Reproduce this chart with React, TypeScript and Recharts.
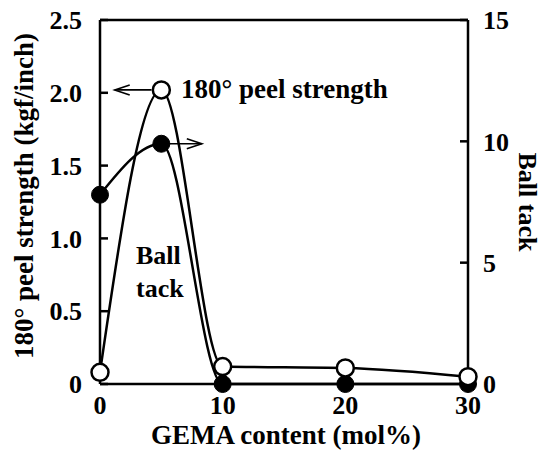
import { LineChart, Line, XAxis, YAxis, ReferenceLine } from "recharts";

// GEMA content (mol%) vs 180° peel strength (left) and ball tack (right)
const gemaContent = [0, 5, 10, 20, 30];
const peelStrength = [0.08, 2.02, 0.12, 0.11, 0.05];
const ballTack = [7.8, 9.9, 0, 0, 0];

const xTicks = [0, 10, 20, 30];
const peelTicks = [0, 0.5, 1.0, 1.5, 2.0, 2.5];
const tackTicks = [0, 5, 10, 15];

const data = gemaContent.map((x, i) => ({ x, peel: peelStrength[i], tack: ballTack[i] }));

const FONT = "'Liberation Serif', 'Times New Roman', serif";
const tickStyle = { fill: "#000", fontSize: 26, fontWeight: 700, fontFamily: FONT };

// arrow drawn on a ReferenceLine segment, head at the x1 or x2 end
function arrowShape(headAt: "start" | "end") {
  return (props: any) => {
    const { x1, y1, x2, y2 } = props;
    const hx = headAt === "start" ? x1 : x2;
    const hy = headAt === "start" ? y1 : y2;
    const d = headAt === "start" ? 1 : -1;
    return (
      <g>
        <line x1={x1} y1={y1} x2={x2} y2={y2} stroke="#000" strokeWidth={1.6} />
        <path
          d={`M${hx + d * 15},${hy - 5} L${hx},${hy} L${hx + d * 15},${hy + 5}`}
          fill="none"
          stroke="#000"
          strokeWidth={1.6}
        />
      </g>
    );
  };
}

const openDot = { r: 8.5, fill: "#fff", stroke: "#000", strokeWidth: 2.5 };
const filledDot = { r: 8.5, fill: "#000", stroke: "#000", strokeWidth: 1 };

export default function App() {
  return (
    <div style={{ position: "absolute", left: 0, top: 0, width: 549, height: 458, background: "#fff" }}>
      <LineChart width={549} height={458} data={data} margin={{ top: 20, right: 0, bottom: 0, left: 0 }}>
        <XAxis
          dataKey="x"
          type="number"
          domain={[0, 30]}
          ticks={xTicks}
          height={74}
          stroke="#000"
          strokeWidth={2.5}
          tickLine={false}
          tickSize={0}
          tickMargin={12}
          tick={tickStyle}
        />
        <YAxis
          yAxisId="left"
          domain={[0, 2.5]}
          ticks={peelTicks}
          width={100}
          stroke="#000"
          strokeWidth={2.5}
          tickSize={-8}
          tickMargin={26}
          tick={tickStyle}
          tickFormatter={(v: number) => (v === 0 ? "0" : v.toFixed(1))}
        />
        <YAxis
          yAxisId="right"
          orientation="right"
          domain={[0, 15]}
          ticks={tackTicks}
          width={81}
          stroke="#000"
          strokeWidth={2.5}
          tickSize={-8}
          tickMargin={23}
          tick={tickStyle}
        />
        <ReferenceLine yAxisId="left" y={2.5} stroke="#000" strokeWidth={2.5} />
        <ReferenceLine
          yAxisId="left"
          segment={[{ x: 1.2, y: 2.02 }, { x: 4.2, y: 2.02 }]}
          shape={arrowShape("start")}
        />
        <ReferenceLine
          yAxisId="right"
          segment={[{ x: 5.5, y: 9.9 }, { x: 8.3, y: 9.9 }]}
          shape={arrowShape("end")}
        />
        <Line
          yAxisId="right"
          dataKey="tack"
          type="monotone"
          stroke="#000"
          strokeWidth={2.5}
          dot={filledDot}
          activeDot={false}
          isAnimationActive={false}
        />
        <Line
          yAxisId="left"
          dataKey="peel"
          type="monotone"
          stroke="#000"
          strokeWidth={2.5}
          dot={openDot}
          activeDot={false}
          isAnimationActive={false}
        />
      </LineChart>
      <svg
        width={549}
        height={458}
        style={{ position: "absolute", left: 0, top: 0, pointerEvents: "none" }}
        fontFamily={FONT}
        fontWeight={700}
        fontSize={27}
      >
        <text x={286} y={444} textAnchor="middle">
          GEMA content (mol%)
        </text>
        <text
          transform="translate(24,196) rotate(-90)"
          textAnchor="middle"
          dominantBaseline="central"
        >
          180° peel strength (kgf/inch)
        </text>
        <text
          transform="translate(527,202) rotate(90)"
          textAnchor="middle"
          dominantBaseline="central"
          fontSize={26}
        >
          Ball tack
        </text>
        <text x={181} y={98}>180° peel strength</text>
        <text x={136} y={264} fontSize={26}>Ball</text>
        <text x={136} y={297} fontSize={26}>tack</text>
      </svg>
    </div>
  );
}
